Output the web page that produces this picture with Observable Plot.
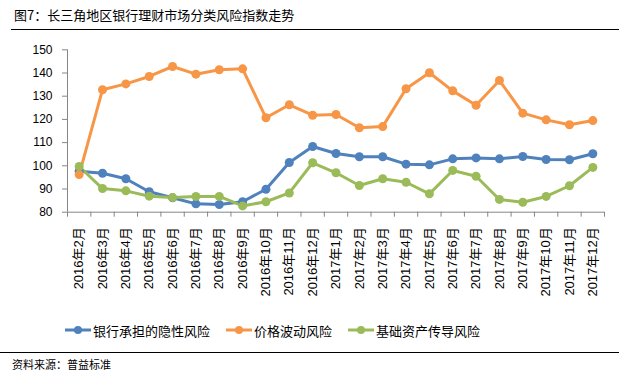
<!DOCTYPE html>
<html><head><meta charset="utf-8">
<script src="https://cdn.jsdelivr.net/npm/d3@7"></script>
<script src="https://cdn.jsdelivr.net/npm/@observablehq/plot@0.6"></script>
<style>
body{margin:0;background:#fff;width:619px;height:379px;overflow:hidden;position:relative;font-family:"Liberation Sans","Noto Sans CJK SC",sans-serif;color:#000}
#title{position:absolute;left:11px;top:0;width:608px;height:30px;border-bottom:1px solid #000;font-size:13px;line-height:30px;padding-left:3px;box-sizing:border-box;font-family:"Noto Sans CJK SC",sans-serif}
#chart{position:absolute;left:0;top:32px}
.leg{position:absolute;top:320px;height:20px;display:flex;align-items:center;font-size:13px;font-family:"Noto Sans CJK SC",sans-serif;white-space:nowrap}
.leg svg{margin-right:2px}
#cap{position:absolute;left:0;top:352px;width:619px;border-top:1px solid #000;font-size:11px;line-height:22px;padding-left:12px;box-sizing:border-box;font-family:"Noto Sans CJK SC",sans-serif}
</style></head>
<body>
<div id="title">图7：长三角地区银行理财市场分类风险指数走势</div>
<div id="chart"></div>
<div id="legend"></div>
<div id="cap">资料来源：普益标准</div>
<script>
const months = ["2016年2月","2016年3月","2016年4月","2016年5月","2016年6月","2016年7月","2016年8月","2016年9月","2016年10月","2016年11月","2016年12月","2017年1月","2017年2月","2017年3月","2017年4月","2017年5月","2017年6月","2017年7月","2017年8月","2017年9月","2017年10月","2017年11月","2017年12月"];
const seriesNames = ["银行承担的隐性风险","价格波动风险","基础资产传导风险"];
const seriesColors = ["#4F81BD","#F79646","#9BBB59"];
const bankRisk = [97.7,96.8,94.4,88.8,86.2,83.6,83.3,84.5,89.9,101.4,108.3,105.3,103.9,103.9,100.7,100.4,103.0,103.4,103.0,104.0,102.7,102.6,105.2];
const priceRisk = [96.2,132.8,135.3,138.5,142.8,139.5,141.4,141.8,120.7,126.3,121.8,122.1,116.4,116.9,133.2,140.1,132.3,126.1,136.8,122.7,119.8,117.7,119.5];
const assetRisk = [99.7,90.2,89.2,86.9,86.3,86.8,86.8,82.7,84.5,88.3,101.3,97.0,91.5,94.4,92.9,87.9,98.0,95.5,85.5,84.3,86.8,91.4,99.3];
const yTicks = [80,90,100,110,120,130,140,150];

const values = [bankRisk, priceRisk, assetRisk];
const data = [];
values.forEach((arr, s) => arr.forEach((v, i) => data.push({x: i + 0.5, v, s: seriesNames[s]})));

const font = '"Liberation Sans","Noto Sans CJK SC",sans-serif';
const chart = Plot.plot({
  width: 619, height: 275,
  marginLeft: 67, marginRight: 15, marginTop: 17.3, marginBottom: 95.3,
  x: {type: "linear", domain: [0, months.length], axis: null, label: null},
  y: {domain: [80, 150], axis: null, label: null},
  color: {domain: seriesNames, range: seriesColors},
  style: {fontFamily: font, background: "transparent", color: "#000"},
  marks: [
    Plot.axisY({ticks: yTicks, label: null, tickSize: 5, tickPadding: 10, stroke: "#868686", fill: "#000", fontSize: 12, tickFormat: d => String(d)}),
    Plot.axisX({ticks: d3.range(months.length + 1), label: null, tickSize: 5, stroke: "#868686", tickFormat: () => ""}),
    Plot.axisX({ticks: months.map((m, i) => i + 0.5), label: null, tickSize: 0, tickPadding: 15, tickRotate: -90, fontSize: 13, fill: "#000", tickFormat: d => months[Math.floor(d)]}),
    Plot.ruleX([0], {stroke: "#868686"}),
    Plot.ruleY([80], {stroke: "#868686"}),
    Plot.line(data, {x: "x", y: "v", z: "s", stroke: "s", strokeWidth: 3}),
    Plot.dot(data, {x: "x", y: "v", fill: "s", r: 4.5})
  ]
});
document.getElementById("chart").appendChild(chart);

const legLefts = [65, 226, 348];
const legend = document.getElementById("legend");
seriesNames.forEach((name, k) => {
  const d = document.createElement("div");
  d.className = "leg";
  d.style.left = legLefts[k] + "px";
  d.innerHTML = `<svg width="26" height="10"><line x1="0" y1="5" x2="26" y2="5" stroke="${seriesColors[k]}" stroke-width="3"/><circle cx="13" cy="5" r="4" fill="${seriesColors[k]}"/></svg><span>${name}</span>`;
  legend.appendChild(d);
});
</script>
</body></html>
